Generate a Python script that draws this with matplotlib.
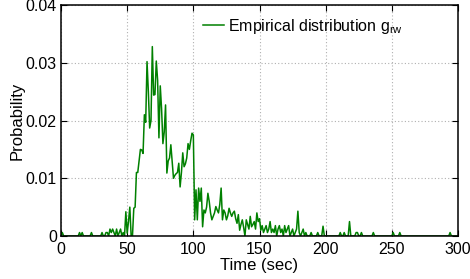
import matplotlib
matplotlib.use("Agg")
import matplotlib.pyplot as plt
import numpy as np

plt.rcParams['font.family'] = ['Liberation Sans', 'DejaVu Sans']

# Time axis (seconds), one sample per second
time_sec = np.arange(0, 301)

# Empirical distribution g_rw (t = 0..300)
probability = [
    # 0-9
    0, 0.0006, 0, 0, 0, 0, 0, 0, 0, 0,
    # 10-19
    0, 0, 0, 0, 0.0006, 0, 0.0006, 0, 0, 0,
    # 20-29
    0, 0, 0, 0.0006, 0, 0, 0, 0, 0, 0,
    # 30-39
    0, 0.0006, 0, 0, 0.0006, 0.0006, 0, 0.0012, 0.0006, 0.0012,
    # 40-49
    0.0006, 0, 0.0012, 0, 0.0006, 0.0012, 0, 0.0006, 0, 0.0042,
    # 50-59
    0.0005, 0.0025, 0.0050, 0, 0, 0.0048, 0.0050, 0.0110, 0.0110, 0.0130,
    # 60-69
    0.0150, 0.0149, 0.0143, 0.0210, 0.0197, 0.0302, 0.0250, 0.0187, 0.0200, 0.0328,
    # 70-79
    0.0244, 0.0245, 0.0303, 0.0270, 0.0170, 0.0260, 0.0220, 0.0160, 0.0180, 0.0227,
    # 80-89
    0.0109, 0.0130, 0.0135, 0.0158, 0.0130, 0.0100, 0.0105, 0.0108, 0.0110, 0.0126,
    # 90-99
    0.0085, 0.0110, 0.0144, 0.0120, 0.0125, 0.0135, 0.0160, 0.0150, 0.0165, 0.0178,
    # 100-109
    0.0175, 0.0028, 0.0080, 0.0028, 0.0083, 0.0060, 0.0083, 0.0016, 0.0045, 0.0040,
    # 110-119
    0.0050, 0.0074, 0.0060, 0.0040, 0.0028, 0.0034, 0.0040, 0.0051, 0.0045, 0.0040,
    # 120-129
    0.0055, 0.0083, 0.0028, 0.0045, 0.0040, 0.0028, 0.0035, 0.0048, 0.0040, 0.0034,
    # 130-139
    0.0040, 0.0043, 0.0030, 0.0022, 0.0037, 0.0010, 0.0020, 0.0028, 0.0015, 0,
    # 140-149
    0.0028, 0.0020, 0.0012, 0.0034, 0.0016, 0.0020, 0.0025, 0.0012, 0.0040, 0.0025,
    # 150-159
    0.0030, 0.0010, 0.0018, 0.0006, 0.0012, 0.0018, 0.0006, 0.0012, 0.0025, 0.0006,
    # 160-169
    0.0012, 0.0006, 0.0018, 0, 0.0012, 0.0018, 0.0006, 0.0012, 0, 0.0018,
    # 170-179
    0.0006, 0.0012, 0.0018, 0, 0.0006, 0.0012, 0, 0.0006, 0.0012, 0.0043,
    # 180-189
    0.0006, 0, 0.0006, 0.0012, 0, 0.0006, 0, 0, 0, 0.0006,
    # 190-199
    0, 0, 0, 0, 0.0006, 0, 0, 0, 0.0017, 0,
    # 200-209
    0, 0, 0, 0, 0, 0, 0, 0, 0, 0,
    # 210-219
    0, 0.0006, 0, 0, 0.0006, 0, 0, 0, 0.0025, 0,
    # 220-229
    0, 0, 0, 0.0006, 0.0006, 0, 0, 0.0006, 0, 0,
    # 230-239
    0, 0, 0, 0, 0, 0, 0.0006, 0, 0, 0,
    # 240-249
    0, 0, 0, 0, 0, 0, 0, 0, 0, 0,
    # 250-259
    0, 0.0006, 0, 0, 0, 0, 0.0006, 0, 0, 0,
    # 260-269
    0, 0, 0, 0, 0, 0, 0, 0, 0, 0,
    # 270-279
    0, 0, 0, 0, 0, 0, 0, 0, 0, 0,
    # 280-289
    0, 0, 0, 0, 0, 0, 0, 0, 0, 0,
    # 290-299
    0, 0, 0, 0, 0.0006, 0, 0, 0, 0, 0,
    # 300
    0,
]

x_ticks = [0, 50, 100, 150, 200, 250, 300]
y_ticks = [0, 0.01, 0.02, 0.03, 0.04]
y_tick_labels = ["0", "0.01", "0.02", "0.03", "0.04"]

fig = plt.figure(figsize=(4.70, 2.79), dpi=100)
ax = fig.add_axes([0.1298, 0.1541, 0.9745 - 0.1298, 0.982 - 0.1541])

ax.plot(time_sec, probability, color='#008000', linewidth=1.1,
        label=r'Empirical distribution g$_{\mathregular{rw}}$')

ax.set_xlim(0, 300)
ax.set_ylim(0, 0.04)
ax.set_xticks(x_ticks)
ax.set_yticks(y_ticks)
ax.set_yticklabels(y_tick_labels)
ax.tick_params(direction='in', top=True, right=True, labelsize=11.5,
               length=4, width=0.8)
ax.tick_params(axis='x', pad=4)
ax.tick_params(axis='y', pad=3)
ax.grid(True, color='#b0b0b0', linestyle=(0, (1, 2)), linewidth=0.8)
for s in ax.spines.values():
    s.set_linewidth(1.1)
    s.set_color('black')

ax.set_xlabel('Time (sec)', fontsize=12, labelpad=1)
ax.set_ylabel('Probability', fontsize=12, labelpad=1)

leg = ax.legend(loc='upper left', frameon=False, fontsize=11.5,
                handlelength=1.3, handletextpad=0.25,
                borderaxespad=0, borderpad=0,
                bbox_to_anchor=(0.358, 0.95))

fig.savefig('out.png', dpi=100)
